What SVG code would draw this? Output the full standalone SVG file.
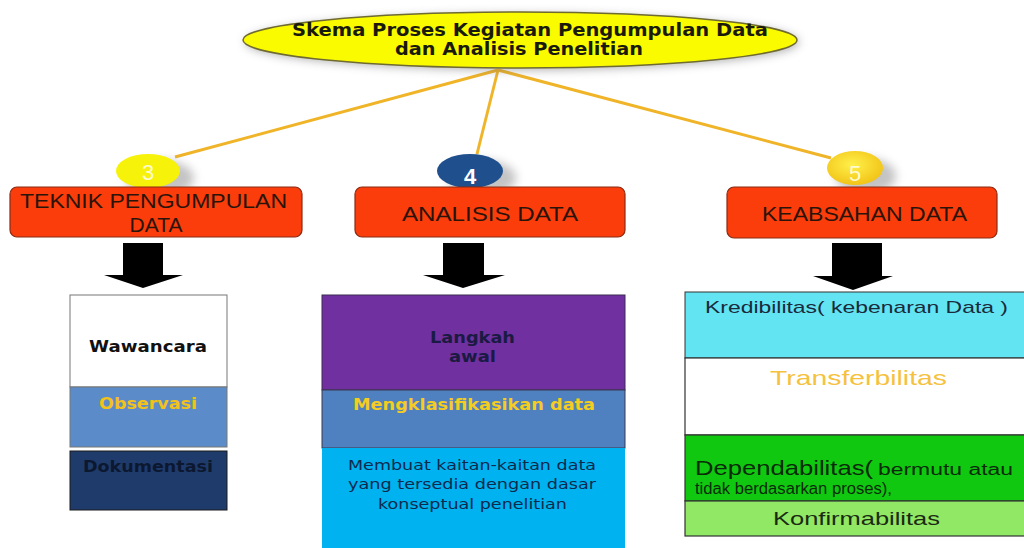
<svg xmlns="http://www.w3.org/2000/svg" width="1024" height="548" viewBox="0 0 1024 548">
<defs>
<style>
.hdr{fill:#fb3d0c;stroke:#8a2a12;stroke-width:1.2}
.hdrt{font-family:"Liberation Sans",Arial,sans-serif;font-size:21px;fill:#2a140a}
.b{font-family:"DejaVu Sans",Verdana,sans-serif;font-weight:bold;font-size:15px}
.n{font-family:"DejaVu Sans",Verdana,sans-serif;font-size:14px;fill:#0b2a4e}
.a{font-family:"Liberation Sans",Arial,sans-serif}
.num{font-family:"Liberation Sans",Arial,sans-serif;font-size:22px;text-anchor:middle}
.ln{stroke:#f0b428;stroke-width:3;fill:none}
.arr{fill:#000}
</style>
<filter id="sh" x="-50%" y="-50%" width="200%" height="200%"><feGaussianBlur stdDeviation="5"/></filter>
<radialGradient id="g5" cx="0.45" cy="0.4" r="0.6"><stop offset="0" stop-color="#fff04a"/><stop offset="1" stop-color="#f2c418"/></radialGradient>
</defs>
<rect width="1024" height="548" fill="#fff"/>

<g id="connectors">
<line class="ln" x1="498" y1="70" x2="175" y2="157"/>
<line class="ln" x1="498" y1="70" x2="477" y2="154"/>
<line class="ln" x1="498" y1="70" x2="831" y2="158"/>
<polygon class="arr" points="123,243 163,243 163,275 183,275 143,288 104,275 123,275"/>
<polygon class="arr" points="443,243 484,243 484,275 505,275 463,288 423,275 443,275"/>
<polygon class="arr" points="832,243 882,243 882,276 893,276 853,290 813,276 832,276"/>
</g>

<g id="title">
<ellipse cx="522" cy="42" rx="277" ry="28" fill="#666" opacity="0.5" filter="url(#sh)"/>
<ellipse cx="520" cy="40" rx="277" ry="28" fill="#fbfb00" stroke="#6e6a30" stroke-width="1.5"/>
<text x="292" y="36" font-family="'DejaVu Sans',Verdana,sans-serif" font-size="18" font-weight="bold" fill="#1a1a0a" textLength="476" lengthAdjust="spacingAndGlyphs">Skema Proses Kegiatan Pengumpulan Data</text>
<text x="395" y="55" font-family="'DejaVu Sans',Verdana,sans-serif" font-size="18" font-weight="bold" fill="#1a1a0a" textLength="248" lengthAdjust="spacingAndGlyphs">dan Analisis Penelitian</text>
</g>

<g id="node3">
<ellipse cx="160" cy="178" rx="34" ry="18" fill="#888" opacity="0.5" filter="url(#sh)"/>
<ellipse cx="148" cy="171" rx="32" ry="17" fill="#f7f20a"/>
<text class="num" x="148" y="180" fill="#fffbd0">3</text>
</g>
<g id="node4">
<ellipse cx="482" cy="178" rx="34" ry="18" fill="#888" opacity="0.5" filter="url(#sh)"/>
<ellipse cx="470" cy="171" rx="33" ry="17" fill="#1f4f8c"/>
<text class="num" x="470" y="184" fill="#fff" font-weight="bold">4</text>
</g>
<g id="node5">
<ellipse cx="866" cy="176" rx="30" ry="18" fill="#888" opacity="0.5" filter="url(#sh)"/>
<ellipse cx="855" cy="168" rx="28" ry="17" fill="url(#g5)"/>
<text class="num" x="855" y="181" fill="#fffbd0">5</text>
</g>

<g id="teknik">
<rect class="hdr" x="10" y="187" width="292" height="50" rx="7"/>
<text class="hdrt" x="20" y="208" textLength="267" lengthAdjust="spacingAndGlyphs">TEKNIK PENGUMPULAN</text>
<text class="hdrt" x="156" y="232" text-anchor="middle">DATA</text>
</g>
<g id="analisis">
<rect class="hdr" x="355" y="187" width="270" height="50" rx="7"/>
<text class="hdrt" x="402" y="221" textLength="176" lengthAdjust="spacingAndGlyphs">ANALISIS DATA</text>
</g>
<g id="keabsahan">
<rect class="hdr" x="727" y="187" width="270" height="51" rx="7"/>
<text class="hdrt" x="762" y="221" textLength="205" lengthAdjust="spacingAndGlyphs">KEABSAHAN DATA</text>
</g>

<g id="col1">
<rect x="70" y="295" width="157" height="92" fill="#fff" stroke="#777" stroke-width="1"/>
<text class="b" x="89" y="352" fill="#111" textLength="118" lengthAdjust="spacingAndGlyphs">Wawancara</text>
<rect x="70" y="387" width="157" height="60" fill="#5b8bc8" stroke="#777" stroke-width="1"/>
<text class="b" x="99" y="409" fill="#f2c21a" textLength="98" lengthAdjust="spacingAndGlyphs">Observasi</text>
<rect x="70" y="451" width="157" height="59" fill="#1f3b6b" stroke="#1a1a1a" stroke-width="1"/>
<text class="b" x="83" y="472" fill="#0c1830" textLength="130" lengthAdjust="spacingAndGlyphs">Dokumentasi</text>
</g>

<g id="col2">
<rect x="322" y="295" width="303" height="95" fill="#7030a0" stroke="#3a2a50" stroke-width="1"/>
<text class="b" x="430" y="343" fill="#1a1a42" font-size="16" textLength="85" lengthAdjust="spacingAndGlyphs">Langkah</text>
<text class="b" x="449" y="362" fill="#1a1a42" font-size="16" textLength="47" lengthAdjust="spacingAndGlyphs">awal</text>
<rect x="322" y="390" width="303" height="58" fill="#4f80bf" stroke="#3a3a50" stroke-width="1"/>
<text class="b" x="353" y="410" fill="#f5cc20" textLength="242" lengthAdjust="spacingAndGlyphs">Mengklasifikasikan data</text>
<rect x="322" y="448" width="303" height="101" fill="#00b2ef"/>
<text class="n" x="348" y="470" textLength="248" lengthAdjust="spacingAndGlyphs">Membuat kaitan-kaitan data</text>
<text class="n" x="348" y="489" textLength="248" lengthAdjust="spacingAndGlyphs">yang tersedia dengan dasar</text>
<text class="n" x="378" y="509" textLength="189" lengthAdjust="spacingAndGlyphs">konseptual penelitian</text>
</g>

<g id="col3">
<rect x="685" y="292" width="345" height="66" fill="#62e4f3" stroke="#333" stroke-width="1"/>
<text class="a" x="705" y="313" font-size="17" fill="#1a2a3a" textLength="303" lengthAdjust="spacingAndGlyphs">Kredibilitas( kebenaran Data )</text>
<rect x="685" y="358" width="345" height="77" fill="#fff" stroke="#333" stroke-width="1.2"/>
<text class="a" x="770" y="385" font-size="21" fill="#f5c240" textLength="177" lengthAdjust="spacingAndGlyphs">Transferbilitas</text>
<rect x="685" y="435" width="345" height="66" fill="#10c810" stroke="#333" stroke-width="1.2"/>
<text class="a" y="475" fill="#0a2a0a"><tspan x="695" font-size="21" textLength="178" lengthAdjust="spacingAndGlyphs">Dependabilitas(</tspan><tspan x="878" font-size="16" textLength="135" lengthAdjust="spacingAndGlyphs">bermutu atau</tspan></text>
<text class="a" x="695" y="494" font-size="16" fill="#0a2a0a" textLength="197" lengthAdjust="spacingAndGlyphs">tidak berdasarkan proses),</text>
<rect x="685" y="501" width="345" height="35" fill="#90e864" stroke="#333" stroke-width="1.2"/>
<text class="a" x="773" y="525" font-size="19" fill="#1a2a12" textLength="167" lengthAdjust="spacingAndGlyphs">Konfirmabilitas</text>
</g>
</svg>
